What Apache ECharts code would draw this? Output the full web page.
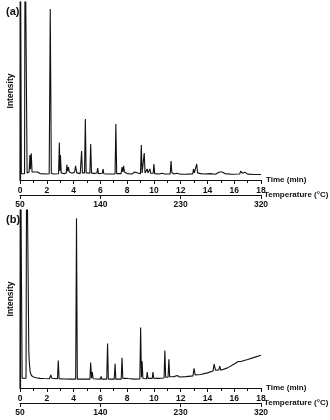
<!DOCTYPE html>
<html>
<head>
<meta charset="utf-8">
<script src="https://cdn.jsdelivr.net/npm/echarts@6/dist/echarts.min.js"></script>
<style>
	html, body { margin: 0; padding: 0; background: #ffffff; }
	#chart { width: 330px; height: 420px; }
</style>
</head>
<body>
<div id="chart"></div>
<script>
	// chromatogram (a): [time (min), intensity]
	var chromA = [
		[0, 0], [0.02, 150], [0.07, 150], [0.1, 3.5], [0.34, 3.5], [0.38, 150], [0.48, 150], [0.53, 4], [0.68, 4.5],
		[0.74, 14], [0.78, 6], [0.84, 15], [0.9, 4.5], [1.0, 3.8], [1.3, 4.5], [1.5, 3.6], [2.0, 3.4],
		[2.18, 3.5], [2.26, 96], [2.34, 3.8], [2.5, 3.4], [2.88, 3.5], [2.94, 21], [2.98, 5], [3.02, 14],
		[3.08, 4], [3.3, 3.5], [3.46, 4], [3.5, 8.5], [3.56, 5], [3.62, 7.3], [3.68, 4.5], [3.9, 3.8],
		[4.08, 4.5], [4.15, 8], [4.24, 4], [4.5, 3.6], [4.55, 4], [4.6, 16.3], [4.66, 4], [4.82, 4],
		[4.88, 34.3], [4.94, 4], [5.22, 3.8], [5.28, 20.2], [5.34, 4], [5.55, 3.6], [5.75, 4], [5.8, 6.7],
		[5.86, 3.6], [6.15, 3.8], [6.2, 6.2], [6.26, 3.5], [6.5, 3.4], [6.6, 4.2], [6.7, 3.4], [7.1, 3.4],
		[7.16, 31.5], [7.22, 3.6], [7.55, 3.6], [7.62, 7.3], [7.68, 4.5], [7.74, 7.9], [7.8, 4.5], [8.0, 3.6],
		[8.4, 3.4], [8.55, 4.5], [8.62, 3.4], [9.0, 3.5], [9.06, 19.7], [9.12, 4], [9.22, 4], [9.28, 15.2],
		[9.34, 4], [9.45, 4], [9.5, 6.2], [9.56, 4], [9.66, 4], [9.7, 6.2], [9.76, 3.8], [9.95, 3.8],
		[10.0, 9], [10.06, 3.6], [10.4, 3.4], [10.6, 3.8], [10.8, 3.4], [11.22, 3.4], [11.28, 10.7], [11.34, 4.2],
		[11.5, 3.4], [11.7, 3.8], [12.0, 3.2], [12.5, 3.3], [12.9, 3.4], [12.96, 6.2], [13.02, 4], [13.14, 4],
		[13.2, 9], [13.26, 4], [13.5, 3.6], [13.8, 3.4], [14.2, 3.6], [14.6, 3.2], [14.9, 4.5], [15.0, 5.6],
		[15.1, 4.5], [15.2, 5], [15.3, 3.6], [15.8, 3.2], [16.4, 3.4], [16.5, 5], [16.6, 3.8], [16.8, 4.4],
		[17.0, 3.3], [17.5, 3.1], [18, 3.1]
	];
	// chromatogram (b)
	var chromB = [
		[0, 0], [0.03, 150], [0.13, 150], [0.16, 5.5], [0.45, 5.5], [0.5, 150], [0.62, 150], [0.66, 20],
		[0.7, 14], [0.76, 9], [0.85, 7], [1.0, 6.2], [1.2, 5.8], [1.5, 5.4], [1.8, 5.3], [2.2, 5.2],
		[2.3, 7.3], [2.38, 5.5], [2.8, 5.2], [2.86, 15.5], [2.92, 5.2], [3.2, 5.1], [3.26, 6], [3.32, 5.1],
		[3.8, 5], [4.16, 5], [4.22, 95.4], [4.28, 5], [4.8, 5], [4.86, 6], [4.92, 5], [5.22, 5],
		[5.28, 14.3], [5.34, 5.5], [5.4, 9], [5.46, 5.2], [6.0, 5], [6.06, 6.5], [6.12, 5], [6.48, 5],
		[6.54, 25], [6.6, 5], [7.04, 5], [7.1, 13.6], [7.16, 5], [7.56, 5], [7.62, 17], [7.68, 5.3],
		[7.9, 5.5], [8.0, 6], [8.1, 5.3], [8.5, 5], [8.95, 5.1], [9.01, 34], [9.07, 6], [9.12, 15],
		[9.18, 5.3], [9.45, 5.2], [9.5, 9], [9.56, 5.4], [9.88, 5.4], [9.93, 9], [9.99, 5.5], [10.3, 5.4],
		[10.76, 5.6], [10.82, 21], [10.88, 6], [10.95, 7], [11.0, 6], [11.06, 6], [11.12, 16.2], [11.18, 6.3],
		[11.5, 6.4], [11.75, 7], [11.9, 6.2], [12.4, 6.4], [12.92, 6.8], [13.0, 11], [13.08, 7.4], [13.5, 7.6],
		[14.0, 8.5], [14.42, 9.6], [14.5, 13.4], [14.6, 10], [14.85, 10.2], [14.92, 12.3], [15.0, 10],
		[15.5, 11.3], [16.0, 13.5], [16.3, 14.9], [16.5, 14.9], [17.0, 16], [17.5, 17.2], [18.0, 18.4]
	];
	var timeRange = [0, 18];
	var tempRange = [50, 320];
	var panelLabels = ['(a)', '(b)'];

	var font = '"Liberation Sans", Arial, sans-serif';

	function timeAxis(gridIndex) {
		return {
			type: 'value',
			gridIndex: gridIndex,
			min: timeRange[0],
			max: timeRange[1],
			interval: 2,
			name: 'Time (min)',
			nameGap: 5,
			nameTextStyle: { color: '#111', fontSize: 8, fontWeight: 'bold', fontFamily: font },
			axisLine: { lineStyle: { color: '#111', width: 1.2 } },
			axisTick: { inside: false, length: 4, lineStyle: { color: '#111', width: 1 } },
			minorTick: { show: true, splitNumber: 2, length: 3, lineStyle: { color: '#111' } },
			axisLabel: { margin: 6, color: '#111', fontSize: 8.5, fontWeight: 'bold', fontFamily: font },
			splitLine: { show: false }
		};
	}

	function tempAxis(gridIndex) {
		return {
			type: 'value',
			gridIndex: gridIndex,
			position: 'bottom',
			offset: 15,
			min: tempRange[0],
			max: tempRange[1],
			interval: 90,
			name: 'Temperature (°C)',
			nameGap: 3,
			nameTextStyle: { color: '#111', fontSize: 8, fontWeight: 'bold', fontFamily: font },
			axisLine: { onZero: false, lineStyle: { color: '#111', width: 1.2 } },
			axisTick: { length: 4, lineStyle: { color: '#111', width: 1 } },
			axisLabel: { margin: 5, color: '#111', fontSize: 8.5, fontWeight: 'bold', fontFamily: font },
			splitLine: { show: false }
		};
	}

	function intensityAxis(gridIndex) {
		return {
			type: 'value',
			gridIndex: gridIndex,
			min: 0,
			max: 100,
			offset: 2,
			name: 'Intensity',
			nameLocation: 'middle',
			nameGap: 3,
			nameTextStyle: { color: '#111', fontSize: 8.5, fontWeight: 'bold', fontFamily: font },
			axisLine: { show: true, lineStyle: { color: '#111', width: 1.2 } },
			axisTick: { show: false },
			axisLabel: { show: false },
			splitLine: { show: false }
		};
	}

	var chart = echarts.init(document.getElementById('chart'));
	chart.setOption({
		animation: false,
		title: [
			{ text: panelLabels[0], left: 1, top: 1, textStyle: { fontSize: 11, fontWeight: 'bold', color: '#111', fontFamily: font } },
			{ text: panelLabels[1], left: 1, top: 209, textStyle: { fontSize: 11, fontWeight: 'bold', color: '#111', fontFamily: font } }
		],
		// fixed plot boxes, no automatic shrinking for the long axis names
		grid: [
			{ left: 20, top: 2, width: 241, height: 178, outerBoundsMode: 'none', containLabel: false },
			{ left: 20, top: 210, width: 241, height: 178, outerBoundsMode: 'none', containLabel: false }
		],
		xAxis: [timeAxis(0), tempAxis(0), timeAxis(1), tempAxis(1)],
		yAxis: [intensityAxis(0), intensityAxis(1)],
		series: [
			{
				type: 'line', xAxisIndex: 0, yAxisIndex: 0, data: chromA,
				symbol: 'none', clip: true,
				lineStyle: { color: '#111', width: 1.1 }
			},
			{
				type: 'line', xAxisIndex: 2, yAxisIndex: 1, data: chromB,
				symbol: 'none', clip: true,
				lineStyle: { color: '#111', width: 1.1 }
			}
		]
	});
</script>
</body>
</html>
